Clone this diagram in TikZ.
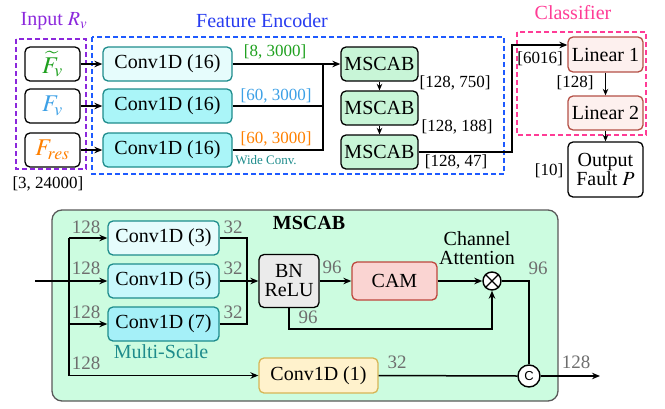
\documentclass[tikz,border=0pt]{standalone}
\usepackage{mathptmx}
\usepackage{fontspec}
\setmainfont{Liberation Serif}
\setsansfont{Liberation Sans}
\usetikzlibrary{arrows.meta}
\definecolor{cpurple}{RGB}{140,40,220}
\definecolor{cblue}{RGB}{40,60,240}
\definecolor{cdblue}{RGB}{30,90,255}
\definecolor{cpink}{RGB}{255,60,150}
\definecolor{cgreen}{RGB}{30,160,30}
\definecolor{clblue}{RGB}{60,160,230}
\definecolor{corange}{RGB}{255,128,0}
\definecolor{cteal}{RGB}{30,140,140}
\definecolor{cyA}{RGB}{230,252,252}
\definecolor{cyB}{RGB}{170,245,248}
\definecolor{cyC}{RGB}{200,248,252}
\definecolor{cyD}{RGB}{165,240,248}
\definecolor{mgreen}{RGB}{200,245,215}
\definecolor{bggreen}{RGB}{204,252,224}
\definecolor{linfill}{RGB}{253,240,238}
\definecolor{linedge}{RGB}{180,80,70}
\definecolor{camfill}{RGB}{250,212,210}
\definecolor{camedge}{RGB}{190,70,60}
\definecolor{yfill}{RGB}{255,242,204}
\definecolor{yedge}{RGB}{214,182,86}
\definecolor{bnfill}{RGB}{235,235,235}
\definecolor{cgray}{RGB}{110,110,110}
\begin{document}
\begin{tikzpicture}[x=1pt,y=-1pt,
  font=\fontsize{20}{19}\selectfont,
  box/.style={draw, rounded corners=5pt, line width=1.3pt, inner sep=0pt, align=center},
  conn/.style={line width=1.5pt},
  arr/.style={line width=1.5pt, -{Stealth[length=8pt,width=6.5pt]}},
  sarr/.style={line width=1.4pt, -{Stealth[length=6.5pt,width=5.5pt]}},
  lbl/.style={inner sep=0pt, font=\fontsize{17}{17}\selectfont},
  glbl/.style={inner sep=0pt, text=cgray, font=\fontsize{19}{19}\selectfont},
  frame/.style={line width=1.5pt, dash pattern=on 5pt off 3pt},
  txt/.style={inner sep=0pt, align=center},
  inbox/.style={box, fill=white, minimum width=55, minimum height=34, font=\fontsize{24}{24}\selectfont}]
\useasboundingbox (0,0) rectangle (665,408);

% ---------- top part ----------
\node[txt, text=cpurple] (tin) at (54,21) {Input $R_v$};
\node[txt, text=cblue] (tfe) at (262,21) {Feature Encoder};
\node[txt, text=cpink] (tcl) at (573,13) {Classifier};

\draw[frame, cpurple] (16,39) rectangle (86,169);
\draw[frame, cdblue] (92,37) rectangle (504,174);
\draw[frame, cpink] (517,32) rectangle (646,135);

\node[inbox, text=cgreen] (i1) at (52.5,64) {$\widetilde{F}_v$};
\node[inbox, text=clblue] (i2) at (52.5,106) {$F_v$};
\node[inbox, text=corange] (i3) at (52.5,150) {$F_{res}$};
\node[lbl] (dim0) at (48,184) {[3, 24000]};

\node[box, draw=cteal, fill=cyA, minimum width=129, minimum height=34] (c1) at (167.5,64) {Conv1D (16)};
\node[box, draw=cteal, fill=cyB, minimum width=129, minimum height=34] (c2) at (167.5,106) {Conv1D (16)};
\node[box, draw=cteal, fill=cyB, minimum width=129, minimum height=34] (c3) at (167.5,150) {Conv1D (16)};
\draw[arr] (i1.east) -- (c1.west);
\draw[arr] (i2.east) -- (c2.west);
\draw[arr] (i3.east) -- (c3.west);

\node[lbl, text=cgreen] (d1) at (275,52) {[8, 3000]};
\node[lbl, text=clblue] (d2) at (276,96) {[60, 3000]};
\node[lbl, text=corange] (d3) at (276,139) {[60, 3000]};
\node[inner sep=0pt, text=cteal, font=\fontsize{13}{13}\selectfont] (wc) at (266,160) {Wide Conv.};

\node[box, fill=mgreen, minimum width=77, minimum height=34] (m1) at (379.5,64) {MSCAB};
\node[box, fill=mgreen, minimum width=77, minimum height=34] (m2) at (379.5,108) {MSCAB};
\node[box, fill=mgreen, minimum width=77, minimum height=34] (m3) at (379.5,152) {MSCAB};
\coordinate (bus) at (323,64);
\draw[arr] (c1.east) -- (m1.west);
\draw[conn] (c2.east) -| (bus);
\draw[conn] (c3.east) -| (bus);
\draw[sarr] (m1.south) -- (m2.north);
\draw[sarr] (m2.south) -- (m3.north);
\node[lbl] (d4) at (455,83) {[128, 750]};
\node[lbl] (d5) at (457,127) {[128, 188]};
\node[lbl] (d6) at (456,162) {[128, 47]};

\node[box, draw=linedge, fill=linfill, minimum width=75, minimum height=35] (l1) at (605.5,54.5) {Linear 1};
\node[box, draw=linedge, fill=linfill, minimum width=75, minimum height=34] (l2) at (605.5,113) {Linear 2};
\node[box, fill=white, minimum width=75, minimum height=55] (out) at (605.5,169.5) {Output\\Fault $P$};
\coordinate (turn) at (512,152);
\draw[arr] (m3.east) -- (turn) |- ([yshift=9.5pt]l1.west);
\draw[sarr] (l1.south) -- (l2.north);
\draw[sarr] (l2.south) -- (out.north);
\node[lbl] (d7) at (540,59) {[6016]};
\node[lbl] (d8) at (575,83) {[128]};
\node[lbl] (d9) at (549,171) {[10]};

% ---------- bottom part ----------
\node[draw=black!65, fill=bggreen, rounded corners=10pt, line width=1.3pt, minimum width=506, minimum height=191, inner sep=0pt] (bg) at (305,305.5) {};
\node[txt, font=\fontsize{20}{19}\selectfont\bfseries] (mt) at (309,223) {MSCAB};

\node[box, draw=cteal, fill=cyA, minimum width=111, minimum height=34] (k3) at (163.5,238) {Conv1D (3)};
\node[box, draw=cteal, fill=cyC, minimum width=111, minimum height=34] (k5) at (163.5,281) {Conv1D (5)};
\node[box, draw=cteal, fill=cyD, minimum width=111, minimum height=34] (k7) at (163.5,324) {Conv1D (7)};
\node[txt, text=cteal] (ms) at (161,352) {Multi-Scale};
\node[box, draw=yedge, fill=yfill, minimum width=119, minimum height=35] (k1) at (318.5,375.5) {Conv1D (1)};

\node[box, fill=bnfill, minimum width=60, minimum height=53] (bn) at (289,281) {BN\\ReLU};
\node[box, draw=camedge, fill=camfill, minimum width=85, minimum height=38] (cam) at (394.5,281) {CAM};
\node[draw, circle, fill=white, line width=1.4pt, minimum size=18, inner sep=0pt] (ot) at (492,281) {};
\draw[line width=1.4pt] (ot.north west) -- (ot.south east) (ot.north east) -- (ot.south west);
\node[draw, circle, fill=white, line width=1.4pt, minimum size=22, inner sep=0pt, font=\sffamily\fontsize{13}{13}\selectfont] (cc) at (529,376) {C};
\node[txt] (ca) at (477,248) {Channel\\Attention};

\coordinate (in) at (35,281);
\coordinate (bt) at (69,238);
\coordinate (b7) at (69,324);
\coordinate (bb) at (69,375.5);
\coordinate (rb) at (247,281);
\coordinate (outp) at (600,376);

\draw[arr] (in) -- (k5.west);
\draw[conn] (bt) -- (bb);
\draw[arr] (bt) -- (k3.west);
\draw[arr] (b7) -- (k7.west);
\draw[arr] (bb) -- (k1.west);
\draw[conn] (k3.east) -| (rb);
\draw[conn] (k7.east) -| (rb);
\draw[arr] (k5.east) -- (bn.west);
\draw[arr] (bn.east) -- (cam.west);
\draw[arr] (cam.east) -- (ot.west);
\draw[arr] (bn.south) -- ++(0,21) -| (ot.south);
\draw[conn] (ot.east) -| (cc.north);
\draw[conn] (k1.east) -- (cc.west);
\draw[arr] (cc.east) -- (outp);

\node[glbl] (n1) at (86,227) {128};
\node[glbl] (n2) at (86,268) {128};
\node[glbl] (n3) at (86,312) {128};
\node[glbl] (n4) at (86,363) {128};
\node[glbl] (n5) at (233,227) {32};
\node[glbl] (n6) at (233,268) {32};
\node[glbl] (n7) at (233,312) {32};
\node[glbl] (n8) at (332,267) {96};
\node[glbl] (n9) at (308,317) {96};
\node[glbl] (n10) at (538,268) {96};
\node[glbl] (n11) at (397,362) {32};
\node[glbl] (n12) at (576,362) {128};
\end{tikzpicture}
\end{document}
